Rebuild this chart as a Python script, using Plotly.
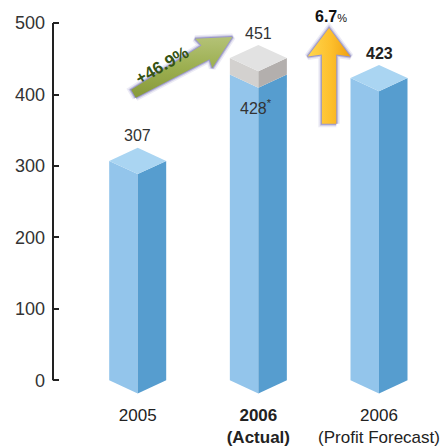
import math
import plotly.graph_objects as go

# ---- data -------------------------------------------------------------
categories = ["2005", "2006 (Actual)", "2006 (Profit Forecast)"]
tick_labels = ["2005", "<b>2006</b><br><b>(Actual)</b>", "2006<br>(Profit Forecast)"]
base_values = [307, 428, 423]        # blue part of each column
actual_2006_total = 451              # 2006 actual including grey cap
top_labels = ["307", "451", "<b>423</b>"]
base_2006_label = "428<sup>*</sup>"
growth_label = "+46.9%"
forecast_label = "<b>6.7</b><span style='font-size:11px'>%</span>"
y_ticks = [0, 100, 200, 300, 400, 500]

# ---- layout geometry --------------------------------------------------
W, H = 445, 447
M_L, M_R, M_T, M_B = 53, 0, 0, 40
PLOT_W = W - M_L - M_R
PLOT_H = H - M_T - M_B
X_RANGE = [-0.702, 2.547]
Y_PX_PER_UNIT = 0.7214
Y_TOP = 532.3
Y_RANGE = [Y_TOP - PLOT_H / Y_PX_PER_UNIT, Y_TOP]
XS = X_RANGE[1] - X_RANGE[0]
YS = Y_RANGE[1] - Y_RANGE[0]


def to_px(x, y):
    return (M_L + (x - X_RANGE[0]) / XS * PLOT_W,
            M_T + (1 - (y - Y_RANGE[0]) / YS) * PLOT_H)


def from_px(px, py):
    return (X_RANGE[0] + (px - M_L) / PLOT_W * XS,
            Y_RANGE[0] + (1 - (py - M_T) / PLOT_H) * YS)


HALF_W = 28.5 * XS / PLOT_W   # half column width (x units)
DEPTH = 13.3 * YS / PLOT_H    # isometric depth of top/bottom (y units)

BLUE_LEFT, BLUE_RIGHT, BLUE_TOP = "#93C5EB", "#569DCF", "#AAD5F2"
GREY_LEFT, GREY_RIGHT, GREY_TOP = "#D3D1CF", "#B3AFAD", "#E2E2E2"

fig = go.Figure()


def poly(xs, ys, color, **kw):
    fig.add_trace(go.Scatter(
        x=xs + [xs[0]], y=ys + [ys[0]], mode="lines", fill="toself",
        fillcolor=color, line=dict(width=0, color=color),
        hoverinfo="skip", showlegend=False, **kw))


def column_faces(c, y0, y1, left, right):
    d = DEPTH
    poly([c - HALF_W, c, c, c - HALF_W], [y0, y0 - d, y1 - d, y1], left)
    poly([c, c + HALF_W, c + HALF_W, c], [y0 - d, y0, y1, y1 - d], right)


def column_top(c, y, color):
    d = DEPTH
    poly([c - HALF_W, c, c + HALF_W, c], [y, y - d, y, y + d], color)


for i, v in enumerate(base_values):
    column_faces(i, 0, v, BLUE_LEFT, BLUE_RIGHT)
    if i == 1:
        column_faces(i, v, actual_2006_total, GREY_LEFT, GREY_RIGHT)
        column_top(i, actual_2006_total, GREY_TOP)
    else:
        column_top(i, v, BLUE_TOP)


# ---- growth arrows ----------------------------------------------------
def arrow_points(tail, tip, w_tail, w_neck, head_hw, head_len):
    tx, ty = to_px(*tail)
    px_, py_ = to_px(*tip)
    L = math.hypot(px_ - tx, py_ - ty)
    ux, uy = (px_ - tx) / L, (py_ - ty) / L
    nx, ny = -uy, ux
    bx, by = px_ - ux * head_len, py_ - uy * head_len
    pts = [
        (tx + nx * w_tail, ty + ny * w_tail),
        (bx + nx * w_neck, by + ny * w_neck),
        (bx - ux * 2 + nx * head_hw, by - uy * 2 + ny * head_hw),
        (px_, py_),
        (bx - ux * 2 - nx * head_hw, by - uy * 2 - ny * head_hw),
        (bx - nx * w_neck, by - ny * w_neck),
        (tx - nx * w_tail, ty - ny * w_tail),
    ]
    data = [from_px(a, b) for a, b in pts]
    return [p[0] for p in data], [p[1] for p in data]


def draw_arrow(xs, ys, gradient):
    # soft violet halo under the arrow
    for width, alpha in [(7, 0.12), (4, 0.25), (2, 0.45)]:
        fig.add_trace(go.Scatter(
            x=xs + [xs[0]], y=ys + [ys[0]], mode="lines",
            line=dict(width=width, color=f"rgba(95,90,170,{alpha})"),
            hoverinfo="skip", showlegend=False))
    fig.add_trace(go.Scatter(
        x=xs + [xs[0]], y=ys + [ys[0]], mode="lines", fill="toself",
        fillgradient=gradient, line=dict(width=0),
        hoverinfo="skip", showlegend=False))


gx, gy = arrow_points((-0.035, 401), (0.784, 480.6), 4.6, 8.0, 17.0, 31.0)
draw_arrow(gx, gy, dict(type="vertical",
                        colorscale=[[0, "#87993A"], [0.5, "#9CAF50"], [1, "#B4C277"]]))

yx, yy = arrow_points((1.586, 359), (1.586, 493), 7.2, 7.2, 21.3, 26.7)
draw_arrow(yx, yy, dict(type="horizontal",
                        colorscale=[[0, "#FFD64E"], [0.55, "#FDBF2C"], [1, "#EFA012"]]))

# ---- labels -----------------------------------------------------------
FONT = "Liberation Sans, Arial, Helvetica, sans-serif"
annotations = []
tops = [base_values[0], actual_2006_total, base_values[2]]
for i, (t, lab) in enumerate(zip(tops, top_labels)):
    annotations.append(dict(x=i, y=t + 35, text=lab, showarrow=False,
                            font=dict(size=16, color="#222" if i == 2 else "#333")))
annotations.append(dict(x=1, y=base_values[1] - 45, text=base_2006_label,
                        showarrow=False, xshift=-2,
                        font=dict(size=16, color="#333")))
annotations.append(dict(x=0.205, y=441, text=growth_label, showarrow=False,
                        textangle=-30,
                        font=dict(size=17, color="#355314", weight=600)))
annotations.append(dict(x=1.602, y=508.7, text=forecast_label, showarrow=False,
                        font=dict(size=16, color="#111")))

fig.update_layout(
    width=W, height=H,
    margin=dict(l=M_L, r=M_R, t=M_T, b=M_B, pad=0),
    paper_bgcolor="white", plot_bgcolor="white",
    font=dict(family=FONT, color="#333"),
    showlegend=False,
    annotations=annotations,
    shapes=[dict(type="line", xref="paper", yref="y", x0=0, x1=0, y0=0, y1=500,
                 line=dict(color="#222", width=2), layer="above")],
    xaxis=dict(range=X_RANGE, tickvals=[0, 1, 2], ticktext=tick_labels,
               showline=False, showgrid=False, zeroline=False, ticks="",
               tickfont=dict(size=17, color="#222"), fixedrange=True),
    yaxis=dict(range=Y_RANGE, tickvals=y_ticks, ticks="inside", ticklen=6,
               tickwidth=2, tickcolor="#222", showline=False, showgrid=False,
               zeroline=False, ticklabelstandoff=7,
               tickfont=dict(size=18, color="#333"), fixedrange=True),
)

fig.write_html("out.html")
